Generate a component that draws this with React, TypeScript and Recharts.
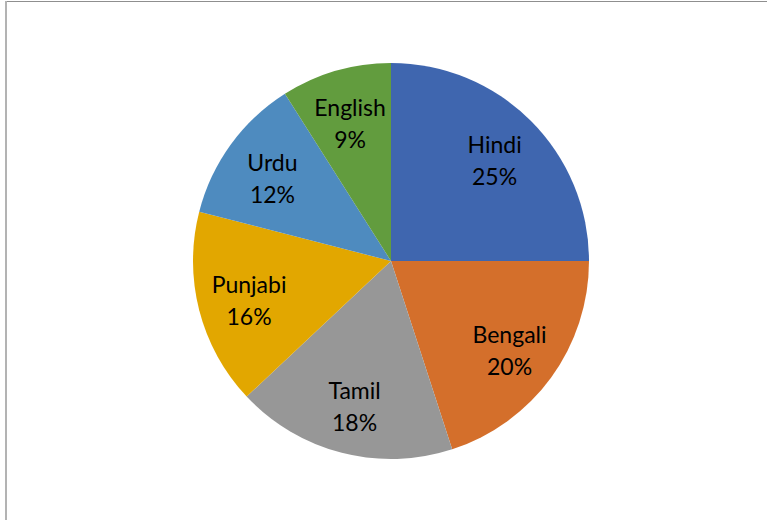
import { PieChart, Pie, Cell } from "recharts";

const LANGUAGES = ["Hindi", "Bengali", "Tamil", "Punjabi", "Urdu", "English"];
const SHARES = [25, 20, 18, 16, 12, 9];
const COLORS = ["#3f66af", "#d46f2b", "#979797", "#e2a700", "#4e8bbf", "#629c3e"];

const data = LANGUAGES.map((name, i) => ({ name, value: SHARES[i] }));

const RAD = Math.PI / 180;

function renderLabel(props: any) {
  const { cx, cy, midAngle, outerRadius, name, value } = props;
  const r = outerRadius * 0.74;
  const x = cx + r * Math.cos(-midAngle * RAD);
  const y = cy + r * Math.sin(-midAngle * RAD);
  return (
    <text
      x={x}
      y={y}
      textAnchor="middle"
      fill="#000"
      fontSize={23}
      fontFamily="Lato, 'Open Sans', sans-serif"
    >
      <tspan x={x} dy={-4}>{name}</tspan>
      <tspan x={x} dy={32}>{`${value}%`}</tspan>
    </text>
  );
}

export default function App() {
  return (
    <div style={{ position: "absolute", left: 0, top: 0, width: 770, height: 520, background: "#fff" }}>
      {/* chart frame: top and left edges are visible */}
      <div style={{ position: "absolute", left: 5, top: 1, width: 762, height: 1, background: "#8f8f8f" }} />
      <div style={{ position: "absolute", left: 5, top: 1, width: 2, height: 519, background: "#b3b3b3" }} />
      <PieChart width={770} height={520} margin={{ top: 0, right: 0, bottom: 0, left: 0 }}>
        <Pie
          data={data}
          dataKey="value"
          nameKey="name"
          cx={391}
          cy={261}
          outerRadius={198}
          startAngle={90}
          endAngle={-270}
          stroke="none"
          labelLine={false}
          label={renderLabel}
          isAnimationActive={false}
        >
          {data.map((_, i) => (
            <Cell key={i} fill={COLORS[i]} />
          ))}
        </Pie>
      </PieChart>
    </div>
  );
}
